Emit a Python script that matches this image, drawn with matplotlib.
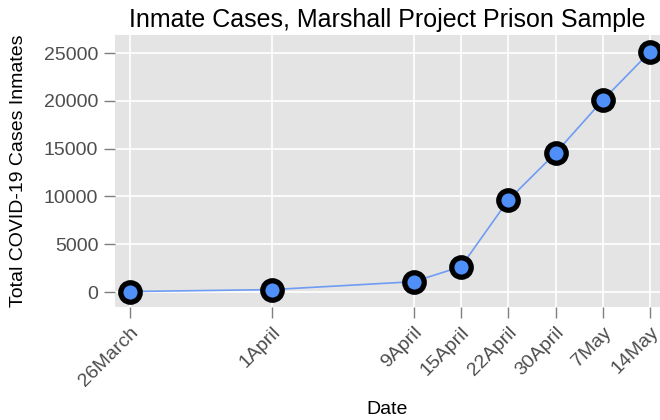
import numpy as np
import matplotlib
matplotlib.use("Agg")
import matplotlib.pyplot as plt

# data
dates = ["26March", "1April", "9April", "15April", "22April", "30April", "7May", "14May"]
date_pos = [0, 3, 6, 7, 8, 9, 10, 11]
cases = [50, 250, 1080, 2650, 9620, 14540, 20080, 25150]
yticks = [0, 5000, 10000, 15000, 20000, 25000]

plt.rcParams['font.family'] = ['Liberation Sans', 'DejaVu Sans']

fig = plt.figure(figsize=(6.6, 4.2), dpi=100)
ax = fig.add_axes([115/660, 1 - 307/420, 545/660, 272/420])

ax.set_facecolor('#e4e4e4')
ax.plot(date_pos, cases, color='#6e9cf2', lw=1.2, zorder=3)
ax.plot(date_pos, cases, 'o', ms=14, mfc='#4f8ff7', mec='black', mew=3.8, zorder=4)

ax.set_xlim(-0.32, 11.21)
ax.set_ylim(-1570, 26900)
ax.set_xticks(date_pos)
ax.set_xticklabels(dates, rotation=45, ha='right', rotation_mode='anchor')
ax.set_yticks(yticks)
ax.grid(True, color='white', lw=1.2)
ax.set_axisbelow(True)
for s in ax.spines.values():
    s.set_visible(False)
ax.tick_params(colors='#7f7f7f', labelcolor='#4d4d4d', labelsize=14, length=8, width=1, pad=4)

ax.set_title("Inmate Cases, Marshall Project Prison Sample", fontsize=18, pad=6)
ax.set_ylabel("Total COVID-19 Cases Inmates", fontsize=14, labelpad=12)
ax.set_xlabel("Date", fontsize=14, labelpad=8)

fig.savefig("out.png", dpi=100)
